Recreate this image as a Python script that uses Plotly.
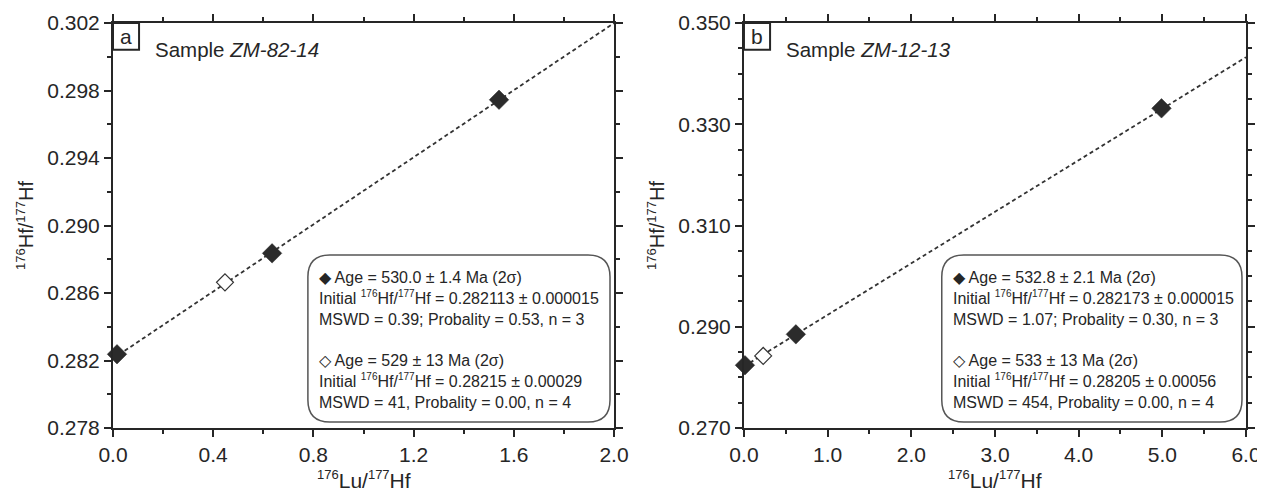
import plotly.graph_objects as go

# ---------------- data ----------------
a_filled_x = [0.016, 0.635, 1.541]
a_filled_y = [0.28237, 0.28835, 0.29745]
a_open_x = [0.447]
a_open_y = [0.28663]
a_intercept = 0.282113
a_slope = 0.00994
a_line_x = [0.0, 2.0]

b_filled_x = [0.012, 0.62, 4.99]
b_filled_y = [0.2824, 0.2885, 0.33314]
b_open_x = [0.23]
b_open_y = [0.28424]
b_intercept = 0.28217
b_slope = 0.01018
b_line_x = [0.0, 6.0]

a_xticks = [0.0, 0.4, 0.8, 1.2, 1.6, 2.0]
a_yticks = [0.278, 0.282, 0.286, 0.290, 0.294, 0.298, 0.302]
b_xticks = [0.0, 1.0, 2.0, 3.0, 4.0, 5.0, 6.0]
b_yticks = [0.270, 0.290, 0.310, 0.330, 0.350]

SUPS = '<sup><span style="font-size:10px">{}</span></sup>'
RATIO = "Initial " + SUPS.format("176") + "Hf/" + SUPS.format("177") + "Hf"

a_text = ("◆ Age = 530.0 ± 1.4 Ma (2σ)<br>"
          + RATIO + " = 0.282113 ± 0.000015<br>"
          "MSWD = 0.39; Probality = 0.53, n = 3<br> <br>"
          "◇ Age = 529 ± 13 Ma (2σ)<br>"
          + RATIO + " = 0.28215 ± 0.00029<br>"
          "MSWD = 41, Probality = 0.00, n = 4")
b_text = ("◆ Age = 532.8 ± 2.1 Ma (2σ)<br>"
          + RATIO + " = 0.282173 ± 0.000015<br>"
          "MSWD = 1.07; Probality = 0.30, n = 3<br> <br>"
          "◇ Age = 533 ± 13 Ma (2σ)<br>"
          + RATIO + " = 0.28205 ± 0.00056<br>"
          "MSWD = 454, Probality = 0.00, n = 4")

FONT = "Liberation Sans, Arial, sans-serif"
INK = "#262626"

fig = go.Figure()

def add_panel(xa, ya, lx, icpt, slope, fx, fy, ox, oy):
    ly = [icpt + slope * v for v in lx]
    fig.add_trace(go.Scatter(x=lx, y=ly, mode="lines", xaxis=xa, yaxis=ya,
                             line=dict(color="#333333", width=1.8, dash="4px,3px"),
                             showlegend=False, hoverinfo="skip"))
    fig.add_trace(go.Scatter(x=ox, y=oy, mode="markers", xaxis=xa, yaxis=ya, cliponaxis=False,
                             marker=dict(symbol="diamond", size=13, color="white",
                                         line=dict(color="#333333", width=1.2)),
                             showlegend=False))
    fig.add_trace(go.Scatter(x=fx, y=fy, mode="markers", xaxis=xa, yaxis=ya, cliponaxis=False,
                             marker=dict(symbol="diamond", size=15, color="#2b2b2b",
                                         line=dict(color="#2b2b2b", width=0.5)),
                             showlegend=False))

add_panel("x", "y", a_line_x, a_intercept, a_slope, a_filled_x, a_filled_y, a_open_x, a_open_y)
add_panel("x2", "y2", b_line_x, b_intercept, b_slope, b_filled_x, b_filled_y, b_open_x, b_open_y)

def axis_common():
    return dict(showline=True, linewidth=2, linecolor=INK, mirror="ticks",
                ticks="outside", ticklen=7, tickwidth=2, tickcolor=INK,
                showgrid=False, zeroline=False, automargin=False,
                tickfont=dict(family=FONT, size=21, color=INK))

TSUP = '<sup><span style="font-size:13px">{}</span></sup>'
x_title = TSUP.format("176") + "Lu/" + TSUP.format("177") + "Hf"
yt = dict(text=TSUP.format("176") + "Hf/" + TSUP.format("177") + "Hf",
          font=dict(family=FONT, size=20, color=INK), standoff=8)

# the page body adds an 8 px offset, so the figure is 8 px smaller on each axis
fig.update_layout(
    width=1257, height=485,
    margin=dict(l=105, r=19, t=15, b=65),
    plot_bgcolor="white", paper_bgcolor="white",
    xaxis=dict(**axis_common(), domain=[0, 0.4422], range=[0, 2.0],
               tickvals=a_xticks, ticktext=[f"{v:.1f}" for v in a_xticks],
               minor=dict(dtick=0.2, tick0=0, ticks="outside", ticklen=4, tickwidth=1.5, tickcolor=INK),
               anchor="y"),
    yaxis=dict(**axis_common(), range=[0.278, 0.302],
               tickvals=a_yticks, ticktext=[f"{v:.3f}" for v in a_yticks],
               minor=dict(dtick=0.002, tick0=0.278, ticks="outside", ticklen=4, tickwidth=1.5, tickcolor=INK),
               title=yt, anchor="x"),
    xaxis2=dict(**axis_common(), domain=[0.5569, 1.0], range=[0, 6.0],
                tickvals=b_xticks, ticktext=[f"{v:.1f}" for v in b_xticks],
                minor=dict(dtick=0.5, tick0=0, ticks="outside", ticklen=4, tickwidth=1.5, tickcolor=INK),
                anchor="y2"),
    yaxis2=dict(**axis_common(), range=[0.270, 0.350],
                tickvals=b_yticks, ticktext=[f"{v:.3f}" for v in b_yticks],
                minor=dict(dtick=0.005, tick0=0.270, ticks="outside", ticklen=4, tickwidth=1.5, tickcolor=INK),
                title=yt, anchor="x2"),
)

# x-axis titles
for xc in [0.2211, 0.7785]:
    fig.add_annotation(xref="paper", yref="paper", x=xc, y=-0.128, text=x_title,
                       showarrow=False, xanchor="center", yanchor="middle",
                       font=dict(family=FONT, size=21, color=INK))

def rounded_path(x0, y0, x1, y1, rx, ry):
    return (f"M {x0+rx},{y0} L {x1-rx},{y0} Q {x1},{y0} {x1},{y0+ry} "
            f"L {x1},{y1-ry} Q {x1},{y1} {x1-rx},{y1} L {x0+rx},{y1} "
            f"Q {x0},{y1} {x0},{y1-ry} L {x0},{y0+ry} Q {x0},{y0} {x0+rx},{y0} Z")

rx_d = 22 / 501
ry_d = 22 / 405

for xr, yr, bx0, bx1, label, sample, txt in [
        ("x domain", "y domain", 0.389, 0.992, "a", "ZM-82-14", a_text),
        ("x2 domain", "y2 domain", 0.394, 0.992, "b", "ZM-12-13", b_text)]:
    fig.add_shape(type="path", xref=xr, yref=yr,
                  path=rounded_path(bx0, 0.015, bx1, 0.427, rx_d, ry_d),
                  line=dict(color="#555555", width=1.5), fillcolor="white", layer="below")
    fig.add_shape(type="rect", xref=xr, yref=yr, x0=0, x1=0.052, y0=0.934, y1=1.0,
                  line=dict(color=INK, width=2), fillcolor="white")
    fig.add_annotation(xref=xr, yref=yr, x=0.026, y=0.967, text=label, showarrow=False,
                       font=dict(family=FONT, size=21, color=INK), xanchor="center", yanchor="middle")
    fig.add_annotation(xref=xr, yref=yr, x=0.080, y=0.935, text=f"Sample <i>{sample}</i>",
                       showarrow=False, font=dict(family=FONT, size=20.5, color=INK),
                       xanchor="left", yanchor="middle")
    fig.add_annotation(xref=xr, yref=yr, x=bx0 + 0.018, y=0.397, text=txt, showarrow=False,
                       align="left", xanchor="left", yanchor="top",
                       font=dict(family=FONT, size=16, color=INK))

fig.write_html("out.html")
